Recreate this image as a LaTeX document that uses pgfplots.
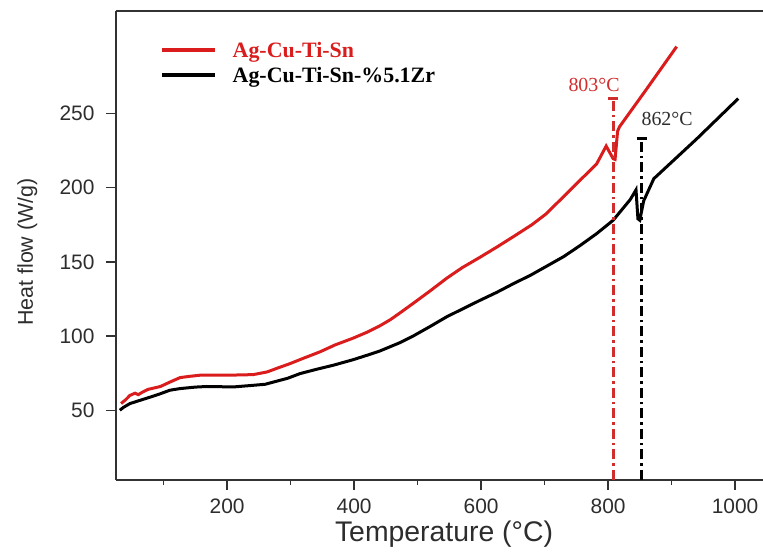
\documentclass[border=0pt]{standalone}
\usepackage{pgfplots}
\pgfplotsset{compat=1.18}
\usepackage{fontspec}
\setmainfont{Liberation Serif}
\newfontfamily\arial{Liberation Sans}
\usetikzlibrary{arrows.meta}
\definecolor{cred}{RGB}{218,28,28}
\definecolor{lred}{RGB}{208,45,45}
\definecolor{axgray}{RGB}{50,50,50}
\definecolor{txgray}{RGB}{45,45,45}
\begin{document}
\begin{tikzpicture}
\path[use as bounding box] (-116bp,-72bp) rectangle (647bp,480bp);
\begin{axis}[
  scale only axis, width=647bp, height=469bp,
  xmin=25, xmax=1044, ymin=3, ymax=319,
  clip=false,
  axis x line=bottom, axis y line=left,
  every outer x axis line/.append style={-},
  every outer y axis line/.append style={-},
  every inner x axis line/.append style={-},
  every inner y axis line/.append style={-},
  axis line style={axgray, line width=1.6bp},
  xtick={200,400,600,800,1000}, minor xtick={100,300,500,700,900},
  ytick={50,100,150,200,250},
  tick align=outside,
  major tick length=10bp, minor tick length=5bp,
  every tick/.style={axgray, line width=1.4bp},
  /pgf/number format/assume math mode=true,
  /pgf/number format/1000 sep={},
  every tick label/.append style={font=\arial\fontsize{21}{24}\selectfont, text=txgray},
  every y tick label/.append style={xshift=-8bp},
  every x tick label/.append style={yshift=-5bp},
  xlabel={Temperature (°C)},
  ylabel={Heat flow (W/g)},
  xlabel style={font=\arial\fontsize{28.5}{32}\selectfont, text=txgray, at={(axis description cs:0.507,-0.1305)}, anchor=base, inner sep=0pt},
  ylabel style={font=\arial\fontsize{21.5}{25}\selectfont, text=txgray, at={(axis description cs:-0.1283,0.486)}, anchor=base, inner sep=0pt},
  legend style={at={(axis description cs:0.0634,0.9446)}, anchor=north west, draw=none, fill=none,
    nodes={inner sep=0pt, text height=18bp, text depth=7bp, font=\bfseries\fontsize{22}{25}\selectfont}, column sep=16bp, row sep=0bp},
  legend cell align=left,
  legend image code/.code={\draw[#1, line width=3.5bp] (-6bp,1.5bp) -- (47bp,1.5bp);},
]
\addplot[cred, line width=3bp] coordinates {
(33,54.5) (40,57) (47,60) (55,61.5) (60,60.5) (66,62) (75,64) (85,65) (95,66) (110,69) (126,72) (140,72.8) (157,73.6) (200,73.6) (241,74) (263,75.8) (280,78.5) (299,81.4) (320,85) (346,89.3) (370,94) (398,98.5) (420,102.5) (441,107) (457,111) (472,115.5) (493,122) (520,130.5) (546,139) (570,146) (598,153) (625,160) (651,167) (680,175) (703,182.5) (730,194) (756,205) (782,216) (797,228) (808,219.5) (811,219) (815,238) (818,241) (860,266) (908,295)
};
\addlegendentry{\textcolor{cred}{Ag-Cu-Ti-Sn}}
\addplot[black, line width=3bp] coordinates {
(31,50) (37,52) (47,54.5) (63,56.7) (80,59) (94,61) (110,63.5) (126,64.6) (150,65.6) (168,66) (210,65.7) (241,66.8) (260,67.5) (273,69) (295,71.5) (315,74.7) (340,77.5) (367,80.3) (398,84) (420,87) (441,90) (472,95.5) (493,100) (520,106.5) (546,113) (572,118.5) (598,124) (625,129.5) (651,135.3) (678,141) (703,147) (730,153.5) (756,161) (782,169) (808,178) (835,192) (844,198.5) (847,179) (850,178) (856,191) (872,206) (940,233) (1005,260)
};
\addlegendentry{Ag-Cu-Ti-Sn-\%5.1Zr}
\addplot[lred, line width=3bp, dash pattern=on 10bp off 4bp on 2.5bp off 4bp, -{Bar[width=10bp,line width=2.5bp]}, forget plot] coordinates {(808,3) (808,261)};
\addplot[black, line width=2.5bp, dash pattern=on 10bp off 4bp on 2.5bp off 4bp, -{Bar[width=10bp,line width=2.5bp]}, forget plot] coordinates {(853,3) (853,234)};
\node[text=lred, font=\fontsize{20}{24}\selectfont] at (axis cs:778,269) {803°C};
\node[text=txgray, font=\fontsize{20}{24}\selectfont] at (axis cs:893,246.5) {862°C};
\draw[axgray, line width=1.6bp] (rel axis cs:0,1) -- (rel axis cs:1,1);
\end{axis}
\end{tikzpicture}
\end{document}
